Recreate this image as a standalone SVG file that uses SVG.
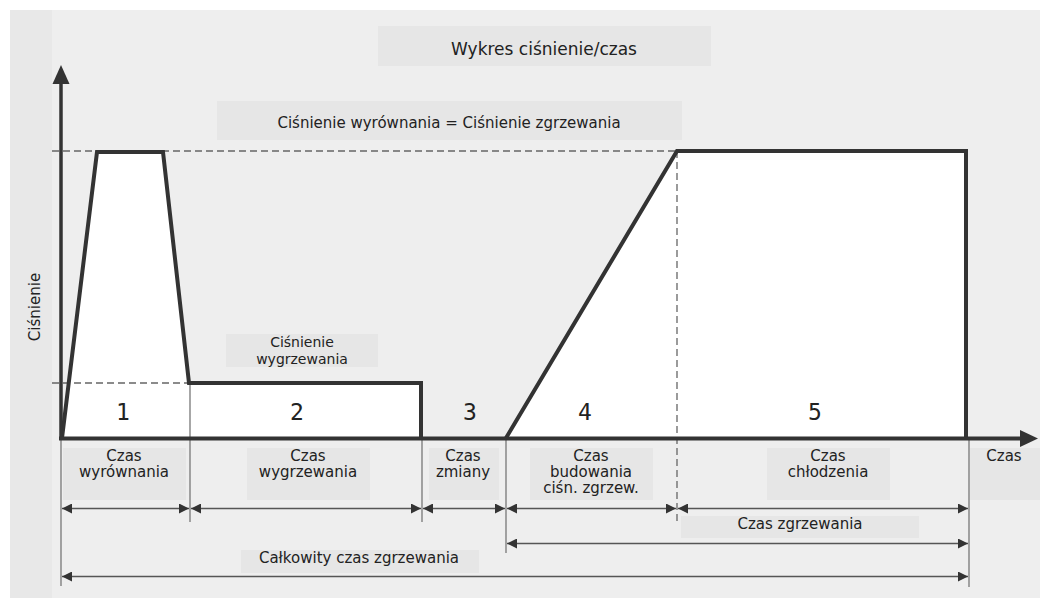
<svg xmlns="http://www.w3.org/2000/svg" width="1040" height="598" viewBox="0 0 1040 598">
<style>
.lbl{font-family:"DejaVu Sans","Liberation Sans",sans-serif;font-size:15px;fill:#222;text-anchor:middle}
.num{font-family:"DejaVu Sans Mono","Liberation Mono",monospace;font-size:23px;fill:#222;text-anchor:middle}
.box{fill:#e6e6e6}
.thick{fill:none;stroke:#333;stroke-width:4;stroke-linejoin:miter}
.thin{stroke:#777;stroke-width:1.3;fill:none}
.dash{stroke:#666;stroke-width:1.3;stroke-dasharray:7 4;fill:none}
.dim{stroke:#555;stroke-width:1.3;fill:none;marker-start:url(#ah);marker-end:url(#ah)}
</style>
<defs>
<marker id="ah" viewBox="0 0 10 10" refX="10" refY="5" markerWidth="10" markerHeight="10" markerUnits="userSpaceOnUse" orient="auto-start-reverse">
<path d="M0,0 L10,5 L0,10 z" fill="#333"/>
</marker>
</defs>
<rect x="0" y="0" width="1040" height="598" fill="#ffffff"/>
<rect x="10" y="10" width="1030" height="588" fill="#eeeeee"/>
<rect x="10" y="10" width="42" height="588" fill="#e8e8e8"/>

<g id="fills">
<polygon points="62,438 97,152 163,152 189,383 421,383 421,438" fill="#ffffff"/>
<polygon points="506,438 677,151 966,151 966,438" fill="#ffffff"/>
</g>

<g id="title">
<rect class="box" x="378" y="26" width="333" height="40"/>
<text class="lbl" x="544" y="55" style="font-size:17px">Wykres ciśnienie/czas</text>
</g>
<g id="equal-pressure">
<rect class="box" x="217" y="101" width="465" height="39"/>
<text class="lbl" x="449" y="128">Ciśnienie wyrównania = Ciśnienie zgrzewania</text>
</g>
<g id="soak-pressure">
<rect class="box" x="226" y="334" width="152" height="33"/>
<text class="lbl" x="302" y="347" style="font-size:14px">Ciśnienie</text>
<text class="lbl" x="302" y="364" style="font-size:14px">wygrzewania</text>
</g>
<g id="y-label">
<text class="lbl" transform="translate(40,307) rotate(-90)" x="0" y="0">Ciśnienie</text>
</g>

<g id="guides">
<line class="dash" x1="52" y1="151" x2="677" y2="151"/>
<line class="dash" x1="52" y1="383" x2="189" y2="383"/>
<line class="dash" x1="677" y1="151" x2="677" y2="522"/>
<line class="thin" x1="190" y1="383" x2="190" y2="522"/>
<line class="thin" x1="422" y1="438" x2="422" y2="522"/>
<line class="thin" x1="506" y1="438" x2="506" y2="553"/>
<line class="thin" x1="61" y1="438" x2="61" y2="586"/>
<line class="thin" x1="969" y1="438" x2="969" y2="587"/>
</g>

<g id="profile">
<polyline class="thick" points="62,438 97,152 163,152 189,383 421,383 421,438"/>
<polyline class="thick" points="506,438 677,151 966,151 966,438"/>
</g>

<g id="axes">
<line x1="61" y1="440" x2="61" y2="82" stroke="#333" stroke-width="3.5"/>
<polygon points="61,65 52.5,84 69.5,84" fill="#333"/>
<line x1="59" y1="438.5" x2="1022" y2="438.5" stroke="#333" stroke-width="4"/>
<polygon points="1038,438.5 1020,430 1020,447" fill="#333"/>
</g>

<g id="phase-numbers">
<text class="num" x="123" y="420">1</text>
<text class="num" x="297" y="420">2</text>
<text class="num" x="470" y="420">3</text>
<text class="num" x="585" y="420">4</text>
<text class="num" x="815" y="420">5</text>
</g>

<g id="t-wyrownania">
<rect class="box" x="63" y="448" width="123" height="52"/>
<text class="lbl" x="124" y="461">Czas</text>
<text class="lbl" x="124" y="477">wyrównania</text>
</g>
<g id="t-wygrzewania">
<rect class="box" x="247" y="448" width="123" height="52"/>
<text class="lbl" x="308" y="461">Czas</text>
<text class="lbl" x="308" y="477">wygrzewania</text>
</g>
<g id="t-zmiany">
<rect class="box" x="429" y="448" width="70" height="52"/>
<text class="lbl" x="463" y="461">Czas</text>
<text class="lbl" x="463" y="477">zmiany</text>
</g>
<g id="t-budowania">
<rect class="box" x="530" y="448" width="123" height="52"/>
<text class="lbl" x="591" y="461">Czas</text>
<text class="lbl" x="591" y="477">budowania</text>
<text class="lbl" x="591" y="493">ciśn. zgrzew.</text>
</g>
<g id="t-chlodzenia">
<rect class="box" x="767" y="448" width="123" height="52"/>
<text class="lbl" x="828" y="461">Czas</text>
<text class="lbl" x="828" y="477">chłodzenia</text>
</g>
<g id="x-label">
<rect class="box" x="970" y="448" width="70" height="52"/>
<text class="lbl" x="1004" y="461">Czas</text>
</g>
<g id="t-zgrzewania">
<rect class="box" x="681" y="516" width="238" height="22"/>
<text class="lbl" x="800" y="529">Czas zgrzewania</text>
</g>
<g id="t-calkowity">
<rect class="box" x="241" y="550" width="238" height="23"/>
<text class="lbl" x="359" y="563">Całkowity czas zgrzewania</text>
</g>

<g id="connectors">
<line class="dim" x1="62" y1="508.5" x2="189" y2="508.5"/>
<line class="dim" x1="191" y1="508.5" x2="421" y2="508.5"/>
<line class="dim" x1="423" y1="508.5" x2="505" y2="508.5"/>
<line class="dim" x1="507" y1="508.5" x2="676" y2="508.5"/>
<line class="dim" x1="678" y1="508.5" x2="968" y2="508.5"/>
<line class="dim" x1="507" y1="543.5" x2="968" y2="543.5"/>
<line class="dim" x1="62" y1="576.5" x2="968" y2="576.5"/>
</g>
</svg>
